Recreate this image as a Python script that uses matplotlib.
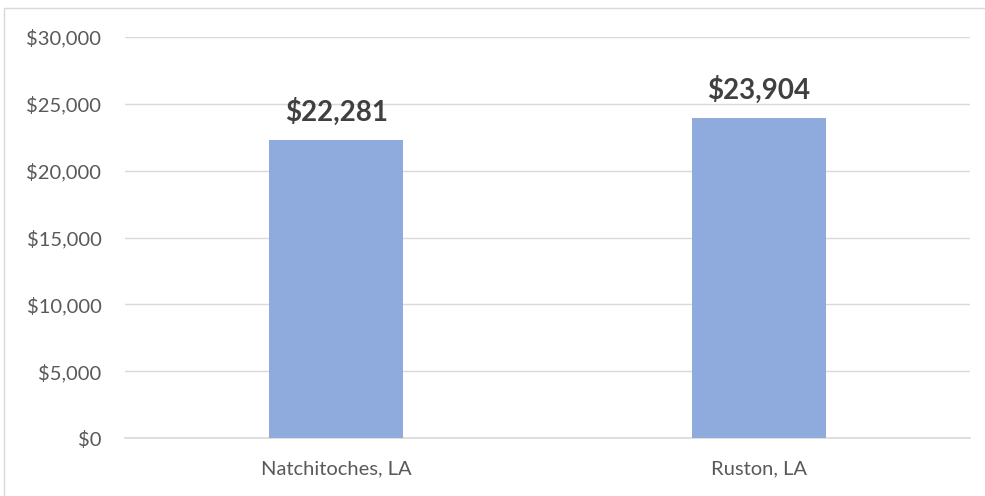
import matplotlib
matplotlib.use("Agg")
import matplotlib.pyplot as plt
from matplotlib.patches import Rectangle
from matplotlib.ticker import FuncFormatter

categories = ["Natchitoches, LA", "Ruston, LA"]
values = [22281, 23904]
yticks = [0, 5000, 10000, 15000, 20000, 25000, 30000]

plt.rcParams['font.family'] = ['Lato', 'DejaVu Sans']

fig = plt.figure(figsize=(9.85, 4.96), dpi=100)
ax = fig.add_axes([125/985, 1-438/496, (970-125)/985, (438-37)/496])

x = list(range(len(categories)))
ax.bar(x, values, width=0.316, color="#8FAADC", zorder=3)
ax.set_xlim(-0.5, len(categories) - 0.5)
ax.set_ylim(0, 30000)
ax.set_yticks(yticks)
ax.yaxis.set_major_formatter(FuncFormatter(lambda v, p: f"${v:,.0f}"))
ax.set_xticks(x)
ax.set_xticklabels(categories)
ax.grid(axis="y", color="#D9D9D9", linewidth=1, zorder=0)
for s in ["top", "right", "left"]:
    ax.spines[s].set_visible(False)
ax.spines["bottom"].set_color("#D9D9D9")
ax.spines["bottom"].set_linewidth(1.2)
ax.tick_params(axis="both", length=0, labelsize=14.5, colors="#595959")
ax.tick_params(axis="y", pad=17)
ax.tick_params(axis="x", pad=16)

for xi, v in zip(x, values):
    ax.annotate(f"${v:,}", (xi, v), xytext=(0, 14), textcoords="offset points",
                ha="center", va="baseline", fontsize=20, fontweight="bold", color="#404040")

fig.patches.append(Rectangle((4/985, -0.01), 1.0, 1 - 8/496 + 0.01, transform=fig.transFigure,
                             fill=False, edgecolor="#D9D9D9", linewidth=1))

fig.savefig("out.png", dpi=100)
